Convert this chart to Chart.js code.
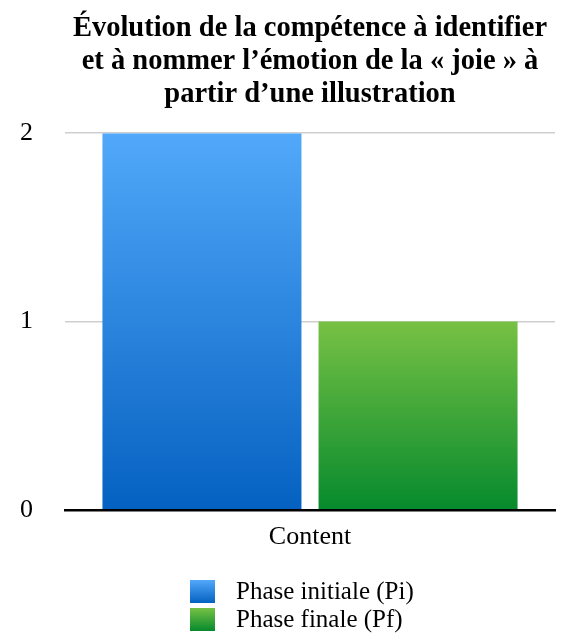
<!DOCTYPE html>
<html lang="fr">
<head>
<meta charset="utf-8">
<script src="https://cdn.jsdelivr.net/npm/chart.js@4/dist/chart.umd.min.js"></script>
<style>
  html, body { margin: 0; padding: 0; background: #fff; }
  #wrap { position: relative; width: 561px; height: 633px; }
  #legend {
    position: absolute; left: 190px; top: 577px;
    font-family: "Liberation Serif", "Times New Roman", serif; font-size: 25px; color: #000;
  }
  #legend .item { display: flex; align-items: center; height: 28px; }
  #legend .box { width: 25px; height: 23px; margin-right: 21px; }
</style>
</head>
<body>
<div id="wrap">
  <canvas id="chart"></canvas>
  <div id="legend"></div>
</div>
<script>
// Data
const categories = ['Content'];
const seriesNames = ['Phase initiale (Pi)', 'Phase finale (Pf)'];
const phaseInitiale = [2];
const phaseFinale = [1];
const titleLines = [
    'Évolution de la compétence à identifier',
    'et à nommer l’émotion de la « joie » à',
    'partir d’une illustration'
];

// light top -> dark bottom for each series
const gradColors = [
    ['#52a9fa', '#0561c1'],
    ['#77c144', '#068a2d']
];

function barGradient(i) {
    return function(context) {
        const chart = context.chart;
        if (!chart.chartArea || !chart.scales.y) return gradColors[i][1];
        const y = chart.scales.y;
        const top = y.getPixelForValue(context.raw);
        const bottom = y.getPixelForValue(0);
        const g = chart.ctx.createLinearGradient(0, top, 0, bottom);
        g.addColorStop(0, gradColors[i][0]);
        g.addColorStop(1, gradColors[i][1]);
        return g;
    };
}

const serif = 'Liberation Serif';

const ctx = document.getElementById('chart').getContext('2d');
const chart = new Chart(ctx, {
    type: 'bar',
    data: {
        labels: categories,
        datasets: [{
            label: seriesNames[0],
            data: phaseInitiale,
            backgroundColor: barGradient(0)
        }, {
            label: seriesNames[1],
            data: phaseFinale,
            backgroundColor: barGradient(1)
        }]
    },
    options: {
        responsive: true,
        maintainAspectRatio: false,
        animation: false,
        layout: { padding: { left: 0, right: 6, top: 0, bottom: 76 } },
        datasets: {
            bar: { categoryPercentage: 0.882, barPercentage: 0.921 }
        },
        plugins: {
            legend: { display: false },
            tooltip: { enabled: false },
            title: {
                display: true,
                text: titleLines,
                fullSize: false,
                color: '#000',
                font: { family: serif, size: 28.5, weight: 'bold', lineHeight: 1.16 },
                padding: { top: 12, bottom: 22 }
            }
        },
        scales: {
            x: {
                grid: { display: false },
                border: { display: true, color: '#000', width: 2.5 },
                ticks: { color: '#000', padding: 4, font: { family: serif, size: 26 } }
            },
            y: {
                min: 0,
                max: 2,
                afterFit: function(scale) { scale.width = 65; },
                border: { display: false },
                grid: {
                    drawTicks: false,
                    color: function(c) { return c.tick && c.tick.value === 0 ? 'rgba(0,0,0,0)' : '#cfcfcf'; },
                    lineWidth: 1.5
                },
                ticks: { stepSize: 1, color: '#000', padding: 32, font: { family: serif, size: 26 } }
            }
        }
    }
});

// Legend (stacked, boxes aligned)
const legendEl = document.getElementById('legend');
seriesNames.forEach((name, i) => {
    const item = document.createElement('div');
    item.className = 'item';
    const box = document.createElement('span');
    box.className = 'box';
    box.style.background = 'linear-gradient(' + gradColors[i][0] + ', ' + gradColors[i][1] + ')';
    const txt = document.createElement('span');
    txt.textContent = name;
    item.appendChild(box);
    item.appendChild(txt);
    legendEl.appendChild(item);
});
</script>
</body>
</html>
